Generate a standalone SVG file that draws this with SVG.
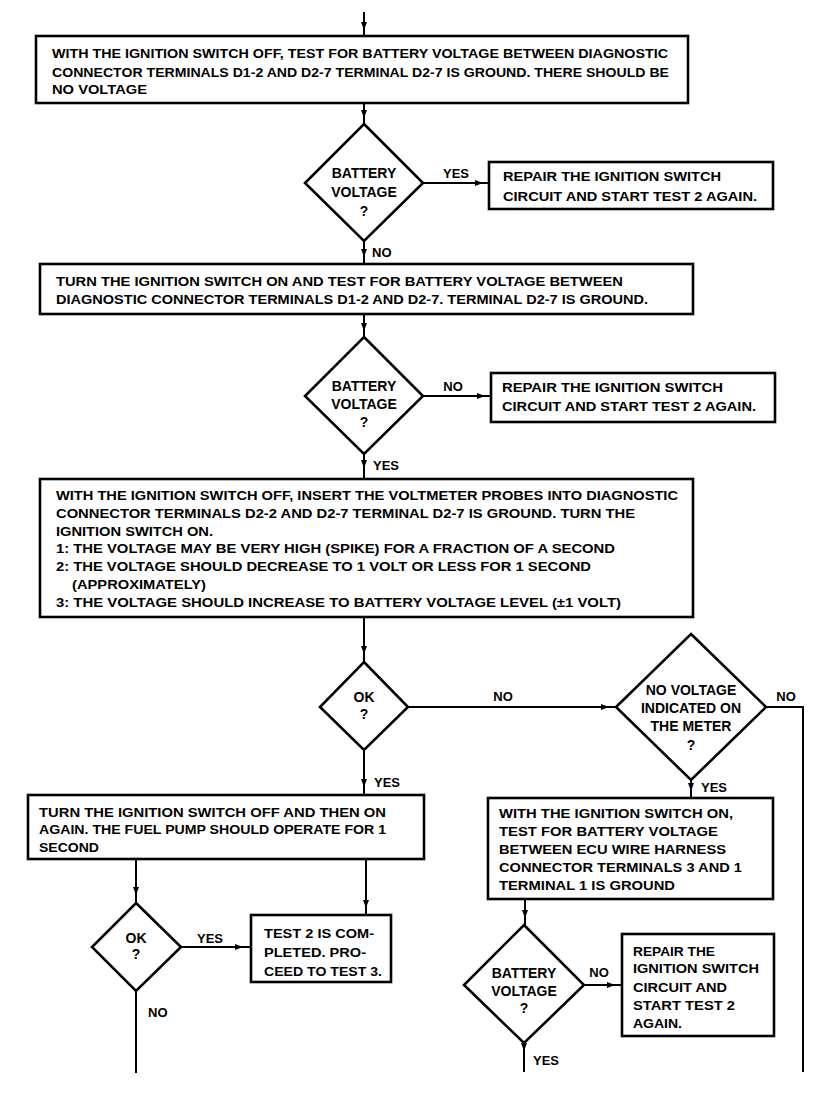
<svg xmlns="http://www.w3.org/2000/svg" width="830" height="1098" viewBox="0 0 830 1098">
<defs>
<style>
.box{fill:#fff;stroke:#000;stroke-width:2.6}
.dia{fill:#fff;stroke:#000;stroke-width:2.6;stroke-linejoin:miter}
.ln{fill:none;stroke:#000;stroke-width:2;marker-mid:url(#ah)}
.pl{fill:none;stroke:#000;stroke-width:2}
text{font-family:"Liberation Sans",Arial,sans-serif;font-weight:bold;font-size:13.5px;fill:#000}
.c{text-anchor:middle}
.d{font-size:14px}
.l{font-size:13px}
</style>
<marker id="ah" viewBox="0 0 8 6" refX="8" refY="3" markerWidth="8" markerHeight="6" markerUnits="userSpaceOnUse" orient="auto"><path d="M0,0 L8,3 L0,6 z" fill="#000"/></marker>
</defs>
<rect width="830" height="1098" fill="#fff"/>

<g id="connectors">
<path class="ln" d="M364,12 L364,30 L364,36"/>
<path class="ln" d="M364,103 L364,118 L364,124"/>
<path class="ln" d="M423,183 L483,183 L489,183"/>
<path class="ln" d="M364,241 L364,257 L364,264"/>
<path class="ln" d="M364,314 L364,331 L364,337"/>
<path class="ln" d="M423,396 L485,396 L491,396"/>
<path class="ln" d="M364,454 L364,468 L364,479"/>
<path class="ln" d="M364,617 L364,654 L364,662"/>
<path class="ln" d="M408,707 L609,707 L616,707"/>
<path class="pl" d="M766,707 L803,707 L803,1072"/>
<path class="ln" d="M691,780 L691,791 L691,798"/>
<path class="ln" d="M525,899 L525,918 L525,925"/>
<path class="ln" d="M584,985 L615,985 L622,985"/>
<path class="ln" d="M524,1043 L524,1051 L524,1072"/>
<path class="ln" d="M364,750 L364,787 L364,795"/>
<path class="ln" d="M136,859 L136,895 L136,903"/>
<path class="ln" d="M366,859 L366,908 L366,915"/>
<path class="ln" d="M181,947 L243,947 L251,947"/>
<path class="pl" d="M136,991 L136,1073"/>
</g>

<g id="box1">
<rect class="box" x="36" y="36" width="652" height="67"/>
<text x="52" y="58" textLength="616" lengthAdjust="spacingAndGlyphs">WITH THE IGNITION SWITCH OFF, TEST FOR BATTERY VOLTAGE BETWEEN DIAGNOSTIC</text>
<text x="52" y="77" textLength="617" lengthAdjust="spacingAndGlyphs">CONNECTOR TERMINALS D1-2 AND D2-7  TERMINAL D2-7 IS GROUND. THERE SHOULD BE</text>
<text x="52" y="94" textLength="95" lengthAdjust="spacingAndGlyphs">NO VOLTAGE</text>
</g>

<g id="dec1">
<polygon class="dia" points="364,124 423,183 364,241 305,183"/>
<text class="c d" x="364" y="178">BATTERY</text>
<text class="c d" x="364" y="197">VOLTAGE</text>
<text class="c d" x="364" y="216">?</text>
</g>
<text x="456" y="178" class="c l">YES</text>
<text x="372" y="257" class="l">NO</text>

<g id="repair1">
<rect class="box" x="489" y="162" width="284" height="47"/>
<text x="503" y="181" textLength="218" lengthAdjust="spacingAndGlyphs">REPAIR THE IGNITION SWITCH</text>
<text x="503" y="201" textLength="254" lengthAdjust="spacingAndGlyphs">CIRCUIT AND START TEST 2 AGAIN.</text>
</g>

<g id="box2">
<rect class="box" x="40" y="264" width="653" height="50"/>
<text x="56" y="285.5" textLength="567" lengthAdjust="spacingAndGlyphs">TURN THE IGNITION SWITCH ON AND TEST FOR BATTERY VOLTAGE BETWEEN</text>
<text x="56" y="303.5" textLength="592" lengthAdjust="spacingAndGlyphs">DIAGNOSTIC CONNECTOR TERMINALS D1-2 AND D2-7. TERMINAL D2-7 IS GROUND.</text>
</g>

<g id="dec2">
<polygon class="dia" points="364,337 423,396 364,454 305,396"/>
<text class="c d" x="364" y="391">BATTERY</text>
<text class="c d" x="364" y="409">VOLTAGE</text>
<text class="c d" x="364" y="427">?</text>
</g>
<text x="453" y="391" class="c l">NO</text>
<text x="373" y="469.5" class="l">YES</text>

<g id="repair2">
<rect class="box" x="491" y="373" width="284" height="49"/>
<text x="502" y="392" textLength="221" lengthAdjust="spacingAndGlyphs">REPAIR THE IGNITION SWITCH</text>
<text x="502" y="411" textLength="254" lengthAdjust="spacingAndGlyphs">CIRCUIT AND START TEST 2 AGAIN.</text>
</g>

<g id="box3">
<rect class="box" x="40" y="479" width="653" height="138"/>
<text x="56" y="499.5" textLength="622" lengthAdjust="spacingAndGlyphs">WITH THE IGNITION SWITCH OFF, INSERT THE VOLTMETER PROBES INTO DIAGNOSTIC</text>
<text x="56" y="517.5" textLength="579" lengthAdjust="spacingAndGlyphs">CONNECTOR TERMINALS D2-2 AND D2-7  TERMINAL D2-7 IS GROUND. TURN THE</text>
<text x="56" y="536" textLength="157" lengthAdjust="spacingAndGlyphs">IGNITION SWITCH ON.</text>
<text x="56" y="553" textLength="559" lengthAdjust="spacingAndGlyphs">1: THE VOLTAGE MAY BE VERY HIGH (SPIKE) FOR A FRACTION OF A SECOND</text>
<text x="56" y="571" textLength="535" lengthAdjust="spacingAndGlyphs">2: THE VOLTAGE SHOULD DECREASE TO 1 VOLT OR LESS FOR 1 SECOND</text>
<text x="72" y="588.5" textLength="134" lengthAdjust="spacingAndGlyphs">(APPROXIMATELY)</text>
<text x="56" y="606.5" textLength="565" lengthAdjust="spacingAndGlyphs">3: THE VOLTAGE SHOULD INCREASE TO BATTERY VOLTAGE LEVEL (±1 VOLT)</text>
</g>

<g id="ok1">
<polygon class="dia" points="364,662 408,707 364,750 320,707"/>
<text class="c d" x="364" y="702">OK</text>
<text class="c d" x="364" y="719">?</text>
</g>
<text x="503" y="701" class="c l">NO</text>

<g id="dec-novolt">
<polygon class="dia" points="691,634 766,707 691,780 616,707"/>
<text class="c d" x="691" y="695">NO VOLTAGE</text>
<text class="c d" x="691" y="713">INDICATED ON</text>
<text class="c d" x="691" y="731">THE METER</text>
<text class="c d" x="691" y="750">?</text>
</g>
<text x="786" y="701" class="c l">NO</text>
<text x="701" y="791.5" class="l">YES</text>

<g id="ecu">
<rect class="box" x="488" y="798" width="285" height="101"/>
<text x="499" y="817.5" textLength="234" lengthAdjust="spacingAndGlyphs">WITH THE IGNITION SWITCH ON,</text>
<text x="499" y="835.5" textLength="219" lengthAdjust="spacingAndGlyphs">TEST FOR BATTERY VOLTAGE</text>
<text x="499" y="853.5" textLength="227" lengthAdjust="spacingAndGlyphs">BETWEEN ECU WIRE HARNESS</text>
<text x="499" y="871.5" textLength="243" lengthAdjust="spacingAndGlyphs">CONNECTOR TERMINALS 3 AND 1</text>
<text x="499" y="890" textLength="176" lengthAdjust="spacingAndGlyphs">TERMINAL 1 IS GROUND</text>
</g>

<g id="dec3">
<polygon class="dia" points="524,925 584,985 524,1043 464,985"/>
<text class="c d" x="524" y="977.5">BATTERY</text>
<text class="c d" x="524" y="995.5">VOLTAGE</text>
<text class="c d" x="524" y="1012.5">?</text>
</g>
<text x="599" y="977" class="c l">NO</text>
<text x="533" y="1064.5" class="l">YES</text>

<g id="repair3">
<rect class="box" x="622" y="934" width="152" height="102"/>
<text x="633" y="955.5" textLength="82" lengthAdjust="spacingAndGlyphs">REPAIR THE</text>
<text x="633" y="972.5" textLength="126" lengthAdjust="spacingAndGlyphs">IGNITION SWITCH</text>
<text x="633" y="991.5" textLength="94" lengthAdjust="spacingAndGlyphs">CIRCUIT AND</text>
<text x="633" y="1009.5" textLength="102" lengthAdjust="spacingAndGlyphs">START TEST 2</text>
<text x="633" y="1027.5" textLength="49" lengthAdjust="spacingAndGlyphs">AGAIN.</text>
</g>

<text x="374" y="787" class="l">YES</text>

<g id="box4">
<rect class="box" x="28" y="795" width="396" height="64"/>
<text x="39" y="816.5" textLength="347" lengthAdjust="spacingAndGlyphs">TURN THE IGNITION SWITCH OFF AND THEN ON</text>
<text x="39" y="833.5" textLength="347" lengthAdjust="spacingAndGlyphs">AGAIN. THE FUEL PUMP SHOULD OPERATE FOR 1</text>
<text x="39" y="851.5" textLength="60" lengthAdjust="spacingAndGlyphs">SECOND</text>
</g>

<g id="ok2">
<polygon class="dia" points="136,903 181,947 136,991 92,947"/>
<text class="c d" x="136" y="943">OK</text>
<text class="c d" x="136" y="959">?</text>
</g>
<text x="210" y="943" class="c l">YES</text>
<text x="148" y="1017" class="l">NO</text>

<g id="test2done">
<rect class="box" x="251" y="915" width="140" height="67"/>
<text x="264" y="937.5" textLength="110" lengthAdjust="spacingAndGlyphs">TEST 2 IS COM-</text>
<text x="264" y="956.5" textLength="102" lengthAdjust="spacingAndGlyphs">PLETED. PRO-</text>
<text x="264" y="975.5" textLength="118" lengthAdjust="spacingAndGlyphs">CEED TO TEST 3.</text>
</g>
</svg>
